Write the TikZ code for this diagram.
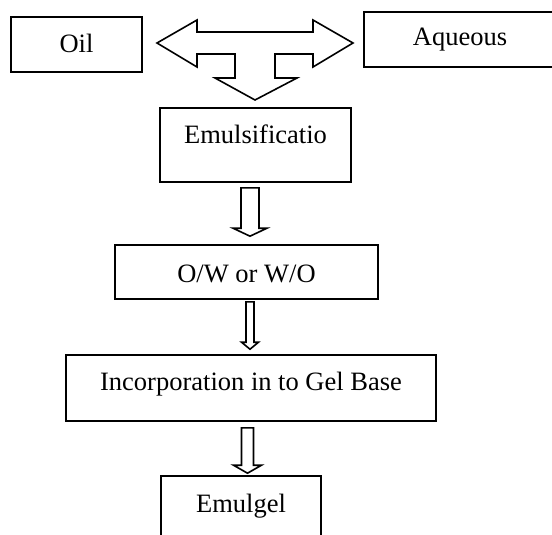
\documentclass[tikz,border=0pt]{standalone}
\usepackage{fontspec}
\setmainfont{Liberation Serif}
\usetikzlibrary{calc}

\tikzset{
  box/.style={draw, line width=1.6pt, rectangle, inner sep=0pt, font=\fontsize{26.5}{30}\selectfont},
  blockarrow/.style={draw, line width=1.6pt, line join=miter, fill=white}
}

\begin{document}
\begin{tikzpicture}[x=1pt,y=-1pt]
\useasboundingbox (0,0) rectangle (552,535);
\clip (0,0) rectangle (552,535);
\node[box, minimum width=131pt, text height=36pt, text depth=19pt] (oil) at (76.5,44.5) {Oil};
\node[box, minimum width=192pt, text height=34pt, text depth=21pt] (aqueous) at (460,39.5) {Aqueous};
\node[box, minimum width=191pt, text height=35pt, text depth=39pt] (emul) at (255.5,145) {Emulsificatio};
\node[box, minimum width=263pt, text height=37pt, text depth=17pt] (ow) at (246.5,272) {O/W or W/O};
\node[box, minimum width=370pt, text height=35pt, text depth=31pt] (incorp) at (251,388) {Incorporation in to Gel Base};
\node[box, minimum width=160pt, text height=36pt, text depth=38pt] (emulgel) at (241,513) {Emulgel};
% three way arrow
\draw[blockarrow] (157,43) -- (197,20) -- (197,32) -- (313,32) -- (313,20) -- (353,43) -- (313,67) -- (313,54)
  -- (275,54) -- (275,78) -- (297,78) -- (255,100) -- (215,78) -- (235,78) -- (235,54) -- (197,54) -- (197,67) -- cycle;
% down arrows
\foreach \src/\dst/\xc/\sw/\hw/\hh/\ga/\gb in {emul/ow/250/9/17/8/5/8, ow/incorp/250/4/8.5/7/2/5, incorp/emulgel/247.5/6/14/8/6/2} {
 \draw[blockarrow] let \p1=(\src.south), \p2=(\dst.north) in
   ({(\xc-\sw)*1pt},{\y1-\ga pt}) -- ({(\xc-\sw)*1pt},{\y2+\gb pt+\hh pt}) -- ({(\xc-\hw)*1pt},{\y2+\gb pt+\hh pt})
   -- ({\xc*1pt},{\y2+\gb pt}) -- ({(\xc+\hw)*1pt},{\y2+\gb pt+\hh pt}) -- ({(\xc+\sw)*1pt},{\y2+\gb pt+\hh pt})
   -- ({(\xc+\sw)*1pt},{\y1-\ga pt}) -- cycle;
};
\end{tikzpicture}
\end{document}
